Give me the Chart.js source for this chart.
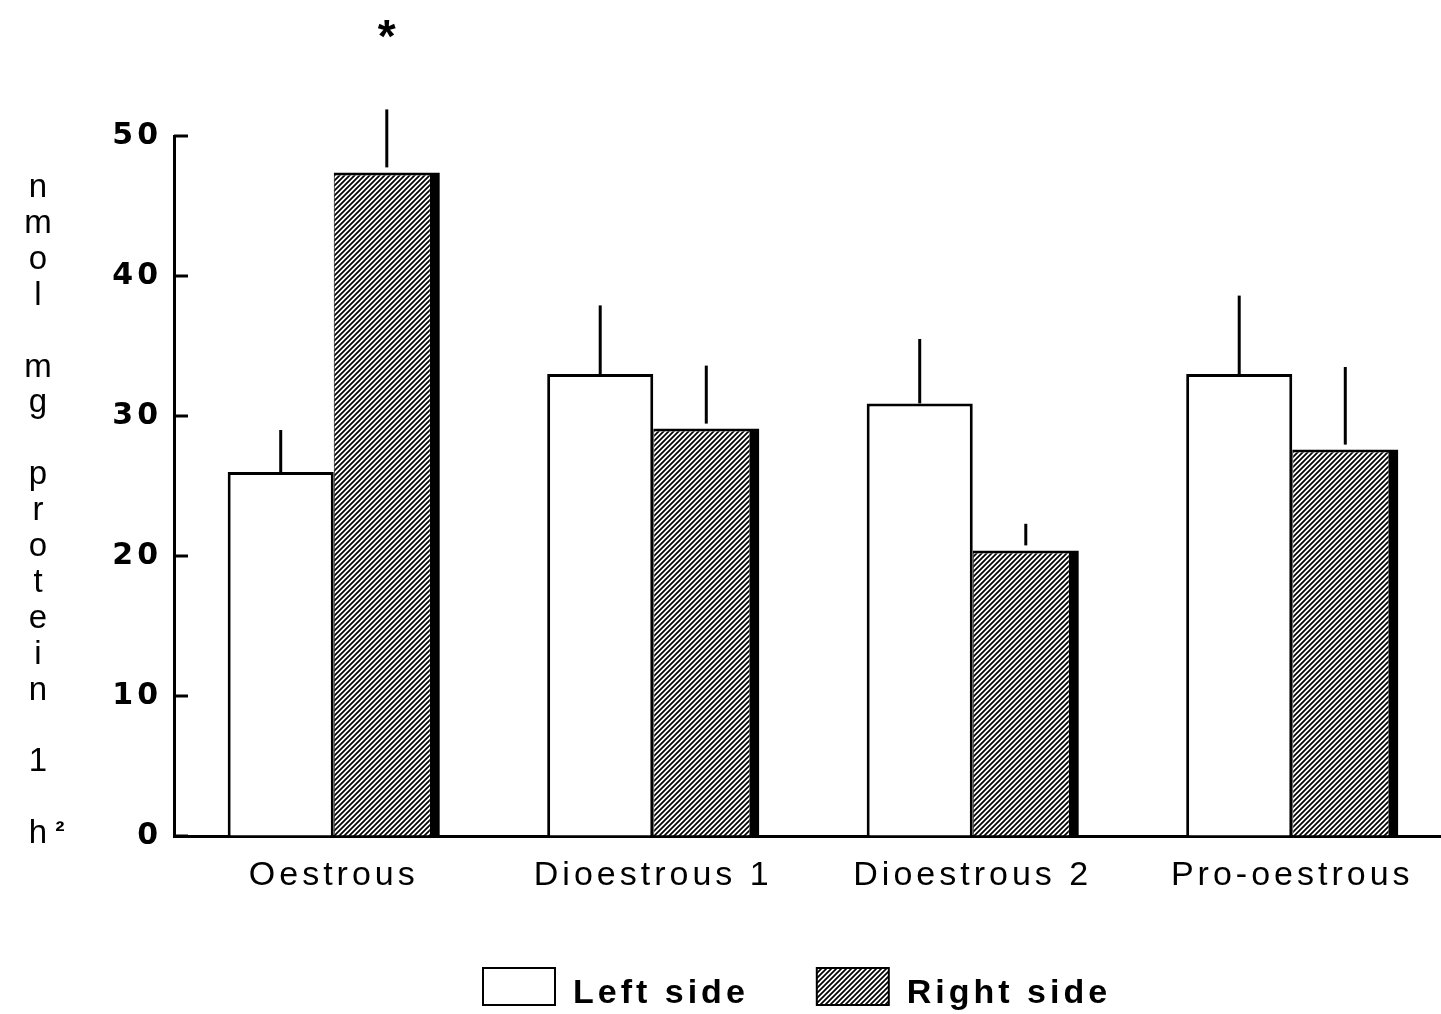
<!DOCTYPE html>
<html>
<head>
<meta charset="utf-8">
<script src="https://cdn.jsdelivr.net/npm/chart.js@4.4.1/dist/chart.umd.min.js"></script>
<style>
  html, body { margin: 0; padding: 0; background: #fff; overflow: hidden; }
  #wrap { width: 1452px; height: 1014px; position: relative; }
</style>
</head>
<body>
<div id="wrap"><canvas id="myChart"></canvas></div>
<script>
var categories = ['Oestrous', 'Dioestrous 1', 'Dioestrous 2', 'Pro-oestrous'];
var seriesNames = ['Left side', 'Right side'];
var leftSide = [26.0, 33.0, 30.9, 33.0];
var rightSide = [47.4, 29.1, 20.4, 27.6];
// upper end of each error bar (mean + SE)
var leftErrTop = [29.0, 37.9, 35.5, 38.6];
var rightErrTop = [51.9, 33.6, 22.3, 33.5];
var rightMarks = ['*', '', '', ''];
var yTicks = [0, 10, 20, 30, 40, 50];
var yTitle = ['n', 'm', 'o', 'l', '', 'm', 'g', '', 'p', 'r', 'o', 't', 'e', 'i', 'n', '', '1', '', 'h'];
var yTitleSup = '\u00b2';

function main() {
    var canvas = document.getElementById('myChart'),
        ctx = canvas.getContext('2d');

    // diagonal hatch for the right side bars
    var tile = document.createElement('canvas');
    tile.width = 5; tile.height = 5;
    var g = tile.getContext('2d');
    g.fillStyle = '#fff';
    g.fillRect(0, 0, 5, 5);
    g.strokeStyle = '#000';
    g.lineWidth = 1.7;
    g.beginPath();
    g.moveTo(-1, 6); g.lineTo(6, -1);
    g.moveTo(-1, 1); g.lineTo(1, -1);
    g.moveTo(4, 6); g.lineTo(6, 4);
    g.stroke();
    var hatch = ctx.createPattern(tile, 'repeat');

    var spacing = {
        id: 'spacing',
        beforeDraw: function (chart) { chart.ctx.letterSpacing = '4px'; }
    };

    var extras = {
        id: 'extras',
        afterDatasetsDraw: function (chart) {
            var c = chart.ctx, y = chart.scales.y, area = chart.chartArea;
            c.save();
            c.strokeStyle = '#000';
            c.fillStyle = '#000';
            c.lineWidth = 3;

            // ticks point inward
            yTicks.forEach(function (v) {
                var py = y.getPixelForValue(v);
                c.beginPath();
                c.moveTo(area.left, py);
                c.lineTo(area.left + 14, py);
                c.stroke();
            });

            // error bars, upward only
            [leftErrTop, rightErrTop].forEach(function (tops, i) {
                chart.getDatasetMeta(i).data.forEach(function (bar, j) {
                    c.beginPath();
                    c.moveTo(bar.x, bar.y - (i ? 5 : 0));
                    c.lineTo(bar.x, y.getPixelForValue(tops[j]));
                    c.stroke();
                });
            });

            // significance marks
            c.font = 'bold 46px "Liberation Sans"';
            c.textAlign = 'center';
            c.textBaseline = 'alphabetic';
            c.letterSpacing = '0px';
            chart.getDatasetMeta(1).data.forEach(function (bar, j) {
                if (rightMarks[j]) c.fillText(rightMarks[j], bar.x, 52);
            });

            // stacked y axis title
            c.font = '33px "Liberation Sans"';
            yTitle.forEach(function (ch, i) {
                if (ch) c.fillText(ch, 38, 197 + i * 35.9);
            });
            c.font = 'bold 28px "Liberation Sans"';
            c.fillText(yTitleSup, 60, 840);

            // legend
            c.font = 'bold 34px "Liberation Sans"';
            c.letterSpacing = '4px';
            c.textAlign = 'left';
            c.lineWidth = 2;
            var x = 483;
            seriesNames.forEach(function (name, i) {
                c.fillStyle = i ? hatch : '#fff';
                c.fillRect(x, 968, 72, 37);
                c.strokeRect(x, 968, 72, 37);
                c.fillStyle = '#000';
                c.fillText(name, x + 90, 1003);
                x += 90 + c.measureText(name).width + 68;
            });
            c.restore();
        }
    };

    new Chart(ctx, {
        type: 'bar',
        data: {
            labels: categories,
            datasets: [{
                label: seriesNames[0],
                data: leftSide,
                backgroundColor: '#fff',
                borderColor: '#000',
                borderWidth: 3,
                borderSkipped: 'start',
                categoryPercentage: 0.664,
                barPercentage: 1
            }, {
                label: seriesNames[1],
                data: rightSide,
                backgroundColor: hatch,
                borderColor: '#000',
                borderWidth: { top: 3, right: 10, left: 1, bottom: 0 },
                borderSkipped: false,
                categoryPercentage: 0.664,
                barPercentage: 1
            }]
        },
        options: {
            responsive: true,
            maintainAspectRatio: false,
            animation: false,
            devicePixelRatio: 1,
            layout: { padding: { top: 136, right: 0, bottom: 98, left: 0 } },
            plugins: {
                legend: { display: false },
                tooltip: { enabled: false }
            },
            scales: {
                x: {
                    grid: { drawOnChartArea: false, drawTicks: false },
                    border: { color: '#000', width: 3 },
                    ticks: {
                        color: '#000',
                        font: { family: 'Liberation Sans', size: 34 },
                        padding: 19,
                        maxRotation: 0,
                        autoSkip: false
                    },
                    afterFit: function (s) { s.height = 80; }
                },
                y: {
                    min: 0,
                    max: 50,
                    afterBuildTicks: function (s) {
                        s.ticks = yTicks.map(function (v) { return { value: v }; });
                    },
                    grid: { drawOnChartArea: false, drawTicks: false },
                    border: { color: '#000', width: 3 },
                    ticks: {
                        color: '#000',
                        font: { family: 'DejaVu Sans', size: 30, weight: 'bold' },
                        padding: 12
                    },
                    afterFit: function (s) { s.width = 174; }
                }
            }
        },
        plugins: [spacing, extras]
    });
}

main();
</script>
</body>
</html>
